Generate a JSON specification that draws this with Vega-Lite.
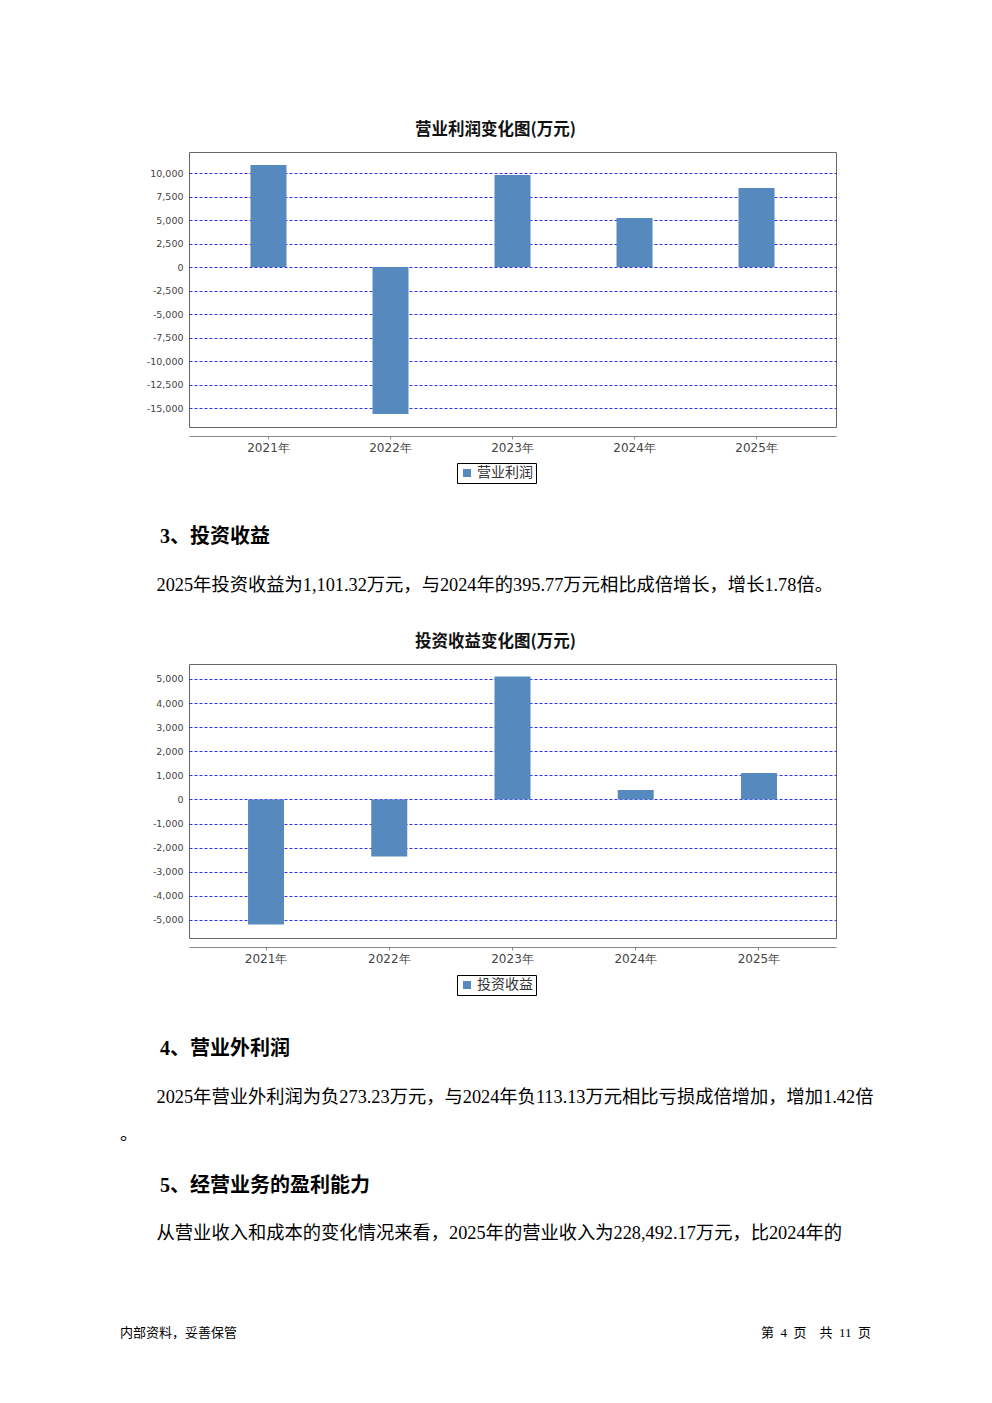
{
  "$schema": "https://vega.github.io/schema/vega-lite/v6.json",
  "background": "white",
  "padding": {"left": 120, "top": 121, "right": 0, "bottom": 0},
  "spacing": 43,
  "resolve": {"scale": {"color": "independent"}, "legend": {"color": "independent"}},
  "config": {
    "view": {"stroke": "#666666", "strokeWidth": 1},
    "axis": {"labelFont": "DejaVu Sans", "labelColor": "#444444"},
    "legend": {"labelFont": "Noto Sans CJK SC"}
  },
  "datasets": {
    "profit": [
      {"year": "2021年", "value": 10850, "series": "营业利润"},
      {"year": "2022年", "value": -15640, "series": "营业利润"},
      {"year": "2023年", "value": 9790, "series": "营业利润"},
      {"year": "2024年", "value": 5210, "series": "营业利润"},
      {"year": "2025年", "value": 8400, "series": "营业利润"}
    ],
    "invest": [
      {"year": "2021年", "value": -5190, "series": "投资收益"},
      {"year": "2022年", "value": -2370, "series": "投资收益"},
      {"year": "2023年", "value": 5100, "series": "投资收益"},
      {"year": "2024年", "value": 395.77, "series": "投资收益"},
      {"year": "2025年", "value": 1101.32, "series": "投资收益"}
    ],
    "footer": [
      {"side": "right", "text": "第\u00a0\u00a04\u00a0\u00a0页\u00a0\u00a0\u00a0\u00a0共\u00a0\u00a011\u00a0\u00a0页"}
    ]
  },
  "vconcat": [
    {
      "data": {"name": "profit"},
      "width": 647,
      "height": 275,
      "title": {"text": "营业利润变化图(万元)", "anchor": "middle", "frame": "group", "dx": -17, "font": "Noto Sans CJK SC", "fontSize": 16.5, "fontWeight": "bold", "color": "#111111", "offset": 14},
      "mark": {"type": "bar"},
      "encoding": {
        "x": {"field": "year", "type": "nominal", "sort": null,
          "scale": {"paddingInner": 0.705, "paddingOuter": 0.504},
          "axis": {"title": null, "labelAngle": 0, "offset": 9, "domainColor": "#888888", "tickColor": "#888888", "tickSize": 3, "labelPadding": 3, "labelFontSize": 12}},
        "y": {"field": "value", "type": "quantitative",
          "scale": {"domain": [-17020, 12234], "nice": false, "zero": false},
          "axis": {"title": null, "values": [-15000, -12500, -10000, -7500, -5000, -2500, 0, 2500, 5000, 7500, 10000], "format": ",.0f", "labelExpr": "replace(datum.label, '\u2212', '-')", "domain": false, "ticks": false, "labelPadding": 6, "labelFontSize": 9.5, "grid": true, "gridColor": "#3333ee", "gridDash": [3, 2], "gridWidth": 1}},
        "color": {"field": "series", "type": "nominal", "scale": {"range": ["#5689bd"]},
          "legend": {"orient": "none", "legendX": 268, "legendY": 311, "direction": "horizontal", "title": null, "strokeColor": "#000000", "padding": 3, "symbolType": "square", "symbolSize": 64, "symbolStrokeWidth": 0, "labelFontSize": 14, "labelColor": "#333333", "labelOffset": 3}}
      }
    },
    {
      "title": {"text": "\u200b\u3000\u30003、投资收益", "subtitle": "\u200b\u3000\u30002025年投资收益为1,101.32万元，与2024年的395.77万元相比成倍增长，增长1.78倍。", "anchor": "start", "frame": "group", "dx": -69, "font": "Liberation Serif, Noto Sans CJK SC", "fontSize": 20, "fontWeight": "bold", "color": "#000000", "subtitleFont": "Liberation Serif, Noto Sans CJK SC", "subtitleFontSize": 18.3, "subtitleColor": "#000000", "subtitlePadding": 30, "offset": 38.5},
      "resolve": {"scale": {"color": "independent"}, "legend": {"color": "independent"}},
      "vconcat": [
        {
          "data": {"name": "invest"},
          "width": 647,
          "height": 274,
          "title": {"text": "投资收益变化图(万元)", "anchor": "middle", "frame": "group", "dx": -17, "font": "Noto Sans CJK SC", "fontSize": 16.5, "fontWeight": "bold", "color": "#111111", "offset": 14},
          "mark": {"type": "bar"},
          "encoding": {
            "x": {"field": "year", "type": "nominal", "sort": null,
              "scale": {"paddingInner": 0.708, "paddingOuter": 0.479},
              "axis": {"title": null, "labelAngle": 0, "offset": 9, "domainColor": "#888888", "tickColor": "#888888", "tickSize": 3, "labelPadding": 3, "labelFontSize": 12}},
            "y": {"field": "value", "type": "quantitative",
              "scale": {"domain": [-5747, 5622], "nice": false, "zero": false},
              "axis": {"title": null, "values": [-5000, -4000, -3000, -2000, -1000, 0, 1000, 2000, 3000, 4000, 5000], "format": ",.0f", "labelExpr": "replace(datum.label, '\u2212', '-')", "domain": false, "ticks": false, "labelPadding": 6, "labelFontSize": 9.5, "grid": true, "gridColor": "#3333ee", "gridDash": [3, 2], "gridWidth": 1}},
            "color": {"field": "series", "type": "nominal", "scale": {"range": ["#5689bd"]},
              "legend": {"orient": "none", "legendX": 268, "legendY": 311, "direction": "horizontal", "title": null, "strokeColor": "#000000", "padding": 3, "symbolType": "square", "symbolSize": 64, "symbolStrokeWidth": 0, "labelFontSize": 14, "labelColor": "#333333", "labelOffset": 3}}
          }
        }
      ]
    },
    {
      "title": {"text": "\u200b\u3000\u30004、营业外利润", "subtitle": ["\u200b\u3000\u30002025年营业外利润为负273.23万元，与2024年负113.13万元相比亏损成倍增加，增加1.42倍", "。"], "anchor": "start", "frame": "group", "dx": -69, "font": "Liberation Serif, Noto Sans CJK SC", "fontSize": 20, "fontWeight": "bold", "color": "#000000", "subtitleFont": "Liberation Serif, Noto Sans CJK SC", "subtitleFontSize": 18.3, "subtitleColor": "#000000", "subtitlePadding": 30, "subtitleLineHeight": 37, "offset": 32},
      "vconcat": [
        {
          "title": {"text": "\u200b\u3000\u30005、经营业务的盈利能力", "subtitle": "\u200b\u3000\u3000从营业收入和成本的变化情况来看，2025年的营业收入为228,492.17万元，比2024年的", "anchor": "start", "frame": "group", "dx": -69, "font": "Liberation Serif, Noto Sans CJK SC", "fontSize": 20, "fontWeight": "bold", "color": "#000000", "subtitleFont": "Liberation Serif, Noto Sans CJK SC", "subtitleFontSize": 18.3, "subtitleColor": "#000000", "subtitlePadding": 29, "offset": 84},
          "vconcat": [
            {
              "data": {"name": "footer"},
              "width": 682,
              "height": 14,
              "view": {"stroke": null},
              "title": {"text": "内部资料，妥善保管", "orient": "bottom", "anchor": "start", "frame": "group", "dx": -69, "baseline": "middle", "offset": -7, "font": "Noto Sans CJK SC", "fontSize": 13, "fontWeight": "normal", "color": "#000000"},
              "mark": {"type": "text", "align": "right", "baseline": "middle", "font": "Liberation Serif, Noto Sans CJK SC", "fontSize": 13, "color": "#000000"},
              "encoding": {
                "x": {"field": "side", "type": "nominal", "scale": {"type": "point", "domain": ["left", "right"], "padding": 0}, "axis": null},
                "text": {"field": "text"}
              }
            }
          ]
        }
      ]
    }
  ]
}
